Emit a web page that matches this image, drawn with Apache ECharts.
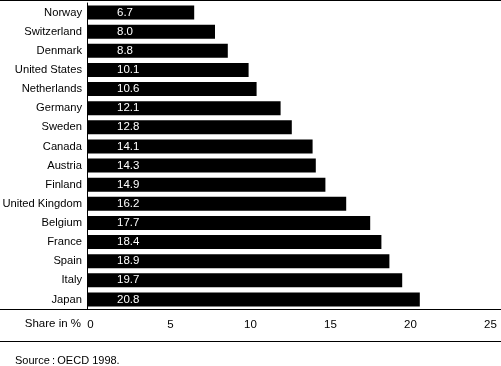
<!DOCTYPE html>
<html><head><meta charset="utf-8">
<script src="https://cdn.jsdelivr.net/npm/echarts@6/dist/echarts.min.js"></script>
<style>html,body{margin:0;padding:0;background:#fff}#c{width:501px;height:366px}</style>
</head><body><div id="c"></div>
<script>
const countries = ["Norway","Switzerland","Denmark","United States","Netherlands","Germany","Sweden","Canada","Austria","Finland","United Kingdom","Belgium","France","Spain","Italy","Japan"];
const shares = [6.7,8.0,8.8,10.1,10.6,12.1,12.8,14.1,14.3,14.9,16.2,17.7,18.4,18.9,19.7,20.8];
const xTicks = [0,5,10,15,20,25];
const axisTitle = "Share in %";
const sourceNote = "Source\u2009:\u2009OECD 1998.";

const FONT = "Liberation Sans, Arial, sans-serif";
const chart = echarts.init(document.getElementById('c'), null, {renderer:'canvas'});
chart.setOption({
  animation:false,
  grid:{left:87,right:14,top:3,bottom:57,containLabel:false,outerBoundsMode:'none'},
  xAxis:{type:'value',min:xTicks[0],max:xTicks[xTicks.length-1],interval:5,
    axisLine:{show:false},axisTick:{show:false},splitLine:{show:false},
    axisLabel:{color:'#000',fontFamily:FONT,fontSize:11.5,margin:10,padding:[0,0,0,7]}},
  yAxis:{type:'category',data:countries,inverse:true,
    axisLine:{show:true,lineStyle:{color:'#000',width:1}},axisTick:{show:false},
    axisLabel:{color:'#000',fontFamily:FONT,fontSize:11.2,margin:5}},
  series:[{type:'bar',data:shares,barCategoryGap:'27%',
    itemStyle:{color:'#000'},
    label:{show:true,position:'insideLeft',distance:30,color:'#fff',fontFamily:FONT,fontSize:11.5,
      formatter:p=>p.value.toFixed(1)}}],
  graphic:[
    {type:'line',shape:{x1:0,y1:0.5,x2:501,y2:0.5},style:{stroke:'#000',lineWidth:1}},
    {type:'line',shape:{x1:0,y1:309.5,x2:501,y2:309.5},style:{stroke:'#000',lineWidth:1}},
    {type:'line',shape:{x1:0,y1:341.5,x2:501,y2:341.5},style:{stroke:'#000',lineWidth:1}},
    {type:'text',x:81,y:324,style:{text:axisTitle,fill:'#000',font:'11.5px '+FONT,textAlign:'right',textVerticalAlign:'middle'}},
    {type:'text',x:15,y:361,style:{text:sourceNote,fill:'#000',font:'11px '+FONT,textAlign:'left',textVerticalAlign:'middle'}}
  ]
});
</script></body></html>
